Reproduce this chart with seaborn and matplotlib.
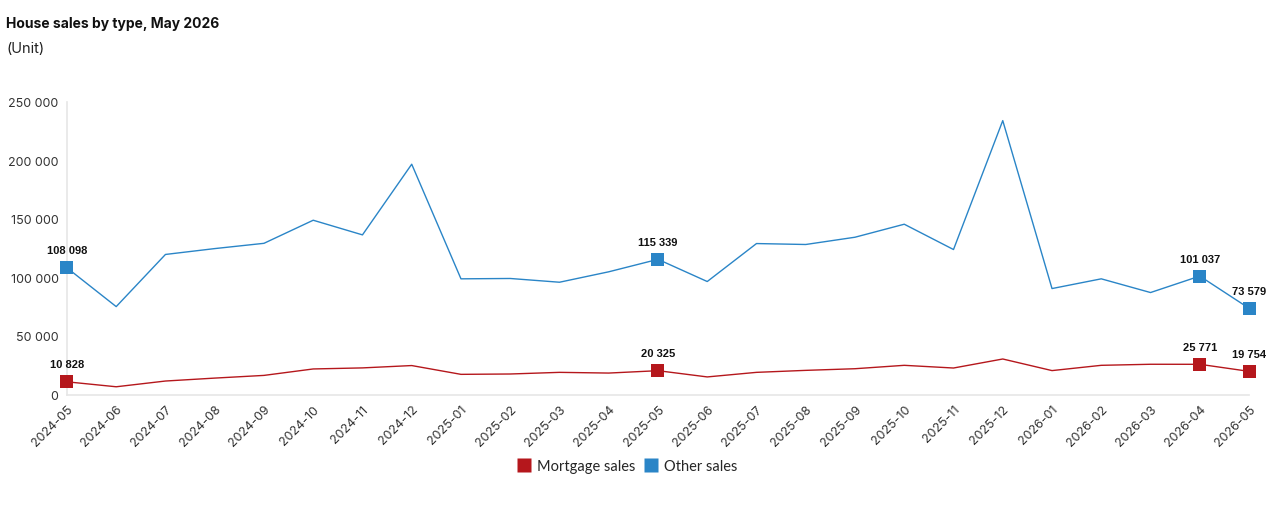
import matplotlib
matplotlib.use("Agg")
import matplotlib.pyplot as plt
from matplotlib.lines import Line2D
import seaborn as sns
import pandas as pd

months = ["2024-05", "2024-06", "2024-07", "2024-08", "2024-09", "2024-10", "2024-11",
          "2024-12", "2025-01", "2025-02", "2025-03", "2025-04", "2025-05", "2025-06",
          "2025-07", "2025-08", "2025-09", "2025-10", "2025-11", "2025-12", "2026-01",
          "2026-02", "2026-03", "2026-04", "2026-05"]
mortgage_sales = [10828, 6600, 11500, 14000, 16300, 21800, 22700, 24700, 17200, 17500,
                  18900, 18300, 20325, 15000, 18900, 20600, 22000, 24900, 22600, 30300,
                  20400, 24900, 25800, 25771, 19754]
other_sales = [108098, 75000, 119500, 124500, 129000, 148700, 136200, 196500, 98700, 99000,
               95800, 104700, 115339, 96400, 128800, 128000, 134200, 145300, 123700, 233700,
               90400, 98700, 87000, 101037, 73579]
series_names = ["Mortgage sales", "Other sales"]
highlight_idx = [0, 12, 23, 24]

colors = {"Mortgage sales": "#B5171C", "Other sales": "#2A85C7"}

df = pd.DataFrame({
    "month": months * 2,
    "x": list(range(len(months))) * 2,
    "value": mortgage_sales + other_sales,
    "series": [series_names[0]] * len(months) + [series_names[1]] * len(months),
})

sns.set_theme(style="white")
plt.rcParams["font.family"] = ["Inter", "DejaVu Sans"]

fig = plt.figure(figsize=(12.8, 5.1), dpi=100)
ax = fig.add_axes([0.0523, 0.2245, 0.9235, 0.5745])

sns.lineplot(data=df, x="x", y="value", hue="series", palette=colors, ax=ax,
             linewidth=1.0, legend=False)

hl = df[df["x"].isin(highlight_idx)]
sns.scatterplot(data=hl, x="x", y="value", hue="series", palette=colors, ax=ax,
                marker="s", s=88, linewidth=0, legend=False, clip_on=False, zorder=5)

for _, r in hl.iterrows():
    ax.annotate(f"{int(r['value']):,}".replace(",", " "), (r["x"], r["value"]),
                xytext=(0, 9), textcoords="offset points", ha="center", va="bottom",
                fontsize=8, fontweight="bold", family="Liberation Sans", color="#111111")

ax.set_xlim(0, len(months) - 1)
ax.set_ylim(0, 250000)
yt = [0, 50000, 100000, 150000, 200000, 250000]
ax.set_yticks(yt)
ax.set_yticklabels([f"{v:,}".replace(",", " ") for v in yt], fontsize=9, color="#333333")
ax.set_xticks(range(len(months)))
ax.set_xticklabels(months, rotation=45, ha="right", rotation_mode="anchor",
                   fontsize=9, color="#333333")
ax.tick_params(axis="both", length=0, pad=6)
ax.set_xlabel("")
ax.set_ylabel("")
for side in ["top", "right"]:
    ax.spines[side].set_visible(False)
ax.spines["left"].set_color("#E6E6E6")
ax.spines["bottom"].set_color("#E6E6E6")
ax.spines["left"].set_linewidth(1.2)
ax.spines["bottom"].set_linewidth(1.2)
ax.grid(False)

handles = [Line2D([0], [0], marker="s", color="none", markerfacecolor=colors[n],
                  markeredgecolor="none", markersize=10, label=n) for n in series_names]
fig.legend(handles=handles, loc="center", bbox_to_anchor=(627 / 1280, 1 - 467 / 510),
           ncol=2, frameon=False, handletextpad=0.4, columnspacing=0.6,
           handlelength=1.0, prop={"family": "Lato", "size": 10.5})

fig.text(6 / 1280, 1 - 24 / 510, "House sales by type, May 2026", fontsize=10,
         fontweight="bold", va="center", ha="left", color="#111111")
fig.text(6 / 1280, 1 - 49 / 510, "(Unit)", fontsize=10.5, va="center", ha="left",
         color="#222222")

fig.savefig("out.png", dpi=100)
